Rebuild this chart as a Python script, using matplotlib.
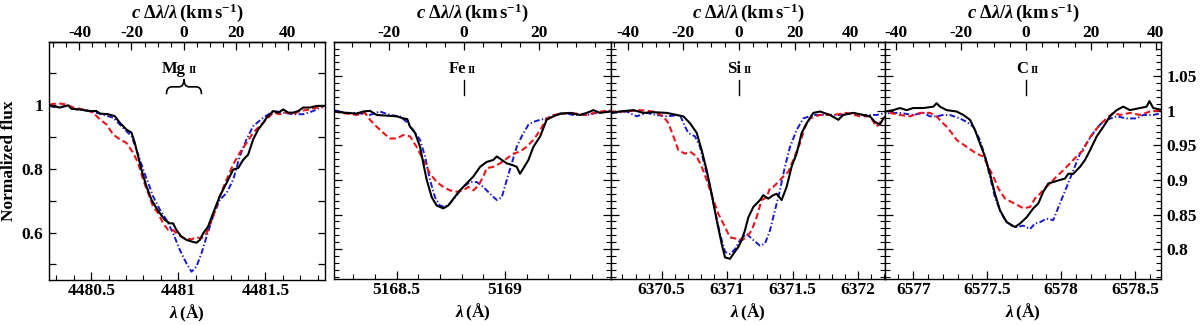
import numpy as np
import matplotlib
matplotlib.use('Agg')
import matplotlib.pyplot as plt
from matplotlib.path import Path
from matplotlib.patches import PathPatch
from matplotlib.ticker import MultipleLocator, FuncFormatter, FixedLocator

C_KMS = 299792.458

# ---- Mg II 4481 ----
mg_black_wl = 4481 + np.array([
    -0.739, -0.681, -0.633, -0.614, -0.566, -0.509, -0.470, -0.451, -0.403, -0.365,
    -0.336, -0.298, -0.269, -0.250, -0.231, -0.212, -0.183, -0.154, -0.126, -0.106,
    -0.078, -0.049, -0.030, -0.011, 0.018, 0.047, 0.076, 0.104, 0.124, 0.143,
    0.171, 0.200, 0.238, 0.277, 0.315, 0.344, 0.373, 0.401, 0.430, 0.459,
    0.488, 0.507, 0.545, 0.574, 0.603, 0.631, 0.660, 0.689, 0.717, 0.756,
    0.794, 0.842])
mg_black_fx = np.array([
    1.000, 0.993, 1.000, 0.989, 0.987, 0.982, 0.982, 0.974, 0.972, 0.966,
    0.945, 0.924, 0.914, 0.882, 0.840, 0.798, 0.745, 0.703, 0.677, 0.661,
    0.640, 0.629, 0.629, 0.608, 0.587, 0.577, 0.572, 0.568, 0.577, 0.598,
    0.619, 0.661, 0.714, 0.756, 0.798, 0.803, 0.829, 0.845, 0.893, 0.924,
    0.945, 0.961, 0.982, 0.977, 0.987, 0.977, 0.977, 0.982, 0.993, 0.993,
    0.998, 0.998])
mg_red_wl = 4481 + np.array([
    -0.739, -0.691, -0.643, -0.604, -0.528, -0.489, -0.451, -0.413, -0.374, -0.336,
    -0.298, -0.260, -0.231, -0.202, -0.173, -0.145, -0.116, -0.087, -0.058, -0.030,
    -0.001, 0.037, 0.076, 0.104, 0.133, 0.162, 0.200, 0.238, 0.277, 0.315,
    0.353, 0.392, 0.430, 0.468, 0.507, 0.545, 0.583, 0.622, 0.660, 0.698,
    0.756, 0.794, 0.832])
mg_red_fx = np.array([
    1.003, 1.006, 1.003, 0.993, 0.985, 0.977, 0.956, 0.940, 0.908, 0.893,
    0.882, 0.851, 0.819, 0.766, 0.724, 0.682, 0.661, 0.629, 0.608, 0.608,
    0.593, 0.582, 0.579, 0.585, 0.582, 0.598, 0.651, 0.714, 0.766, 0.814,
    0.851, 0.882, 0.914, 0.935, 0.956, 0.977, 0.972, 0.977, 0.972, 0.982,
    0.987, 0.993, 0.993])
mg_blue_wl = 4481 + np.array([
    -0.739, -0.700, -0.643, -0.585, -0.509, -0.451, -0.374, -0.317, -0.269, -0.240,
    -0.202, -0.173, -0.145, -0.106, -0.068, -0.030, 0.009, 0.047, 0.076, 0.104,
    0.133, 0.162, 0.200, 0.238, 0.277, 0.315, 0.353, 0.392, 0.430, 0.488,
    0.545, 0.603, 0.660, 0.717, 0.775, 0.832])
mg_blue_fx = np.array([
    0.998, 0.993, 0.998, 0.987, 0.982, 0.974, 0.961, 0.929, 0.903, 0.861,
    0.798, 0.756, 0.714, 0.672, 0.640, 0.598, 0.545, 0.503, 0.477, 0.493,
    0.535, 0.587, 0.651, 0.703, 0.724, 0.766, 0.840, 0.893, 0.935, 0.961,
    0.982, 0.977, 0.972, 0.972, 0.982, 0.998])

# ---- Fe II 5169 ----
fe_black_wl = 5169 + np.array([
    -0.789, -0.731, -0.685, -0.654, -0.623, -0.592, -0.546, -0.500, -0.469, -0.451,
    -0.438, -0.415, -0.392, -0.377, -0.361, -0.338, -0.315, -0.285, -0.262, -0.238,
    -0.208, -0.177, -0.146, -0.115, -0.085, -0.054, -0.038, -0.015, 0.008, 0.031,
    0.054, 0.069, 0.085, 0.108, 0.131, 0.162, 0.192, 0.223, 0.254, 0.300,
    0.346, 0.377, 0.408, 0.438, 0.485])
fe_black_fx = np.array([
    0.999, 0.997, 0.996, 0.999, 1.000, 0.994, 0.993, 0.992, 0.989, 0.988,
    0.977, 0.968, 0.948, 0.924, 0.900, 0.875, 0.863, 0.859, 0.863, 0.873,
    0.885, 0.895, 0.905, 0.919, 0.926, 0.929, 0.934, 0.929, 0.924, 0.922,
    0.919, 0.909, 0.917, 0.929, 0.948, 0.963, 0.987, 0.992, 0.996, 0.997,
    0.994, 0.997, 1.001, 0.997, 0.999])
fe_red_wl = 5169 + np.array([
    -0.789, -0.731, -0.685, -0.646, -0.623, -0.592, -0.561, -0.531, -0.500, -0.469,
    -0.438, -0.408, -0.377, -0.346, -0.315, -0.285, -0.254, -0.223, -0.192, -0.169,
    -0.146, -0.123, -0.100, -0.085, -0.054, -0.023, 0.008, 0.038, 0.069, 0.100,
    0.131, 0.162, 0.192, 0.223, 0.300, 0.377, 0.423, 0.485])
fe_red_fx = np.array([
    0.999, 0.996, 0.994, 0.997, 0.987, 0.977, 0.968, 0.960, 0.960, 0.965,
    0.963, 0.948, 0.929, 0.909, 0.897, 0.890, 0.885, 0.883, 0.885, 0.890,
    0.885, 0.892, 0.905, 0.917, 0.919, 0.924, 0.931, 0.938, 0.941, 0.948,
    0.958, 0.972, 0.989, 0.994, 0.997, 0.994, 0.998, 1.001])
fe_blue_wl = 5169 + np.array([
    -0.789, -0.731, -0.685, -0.623, -0.577, -0.531, -0.485, -0.454, -0.423, -0.392,
    -0.369, -0.346, -0.323, -0.300, -0.277, -0.254, -0.223, -0.192, -0.162, -0.131,
    -0.100, -0.069, -0.038, -0.015, 0.008, 0.031, 0.054, 0.077, 0.108, 0.131,
    0.162, 0.192, 0.223, 0.269, 0.315, 0.377, 0.423, 0.485])
fe_blue_fx = np.array([
    1.001, 0.997, 0.997, 0.994, 0.999, 0.994, 0.992, 0.984, 0.972, 0.958,
    0.934, 0.900, 0.875, 0.863, 0.861, 0.866, 0.878, 0.890, 0.897, 0.897,
    0.890, 0.880, 0.871, 0.875, 0.900, 0.924, 0.948, 0.963, 0.980, 0.984,
    0.987, 0.989, 0.992, 0.997, 0.994, 0.994, 0.997, 0.999])

# ---- Si II 6371 ----
si_black_wl = 6371 + np.array([
    -0.971, -0.895, -0.818, -0.716, -0.640, -0.564, -0.462, -0.386, -0.335, -0.284,
    -0.233, -0.195, -0.157, -0.119, -0.081, -0.043, -0.017, 0.021, 0.046, 0.084,
    0.110, 0.135, 0.161, 0.199, 0.250, 0.275, 0.313, 0.351, 0.377, 0.415,
    0.453, 0.491, 0.529, 0.568, 0.606, 0.657, 0.708, 0.784, 0.848, 0.885,
    0.962, 1.038, 1.089, 1.127, 1.165, 1.191, 1.242, 1.318])
si_black_fx = np.array([
    0.994, 0.997, 0.999, 1.001, 0.997, 0.998, 0.997, 0.994, 0.992, 0.982,
    0.968, 0.943, 0.914, 0.880, 0.842, 0.808, 0.788, 0.786, 0.793, 0.803,
    0.813, 0.827, 0.846, 0.861, 0.871, 0.878, 0.873, 0.878, 0.880, 0.871,
    0.890, 0.919, 0.938, 0.968, 0.982, 0.997, 0.999, 0.994, 0.987, 0.994,
    0.997, 0.994, 0.992, 0.984, 0.980, 0.989, 0.997, 0.999])
si_red_wl = 6371 + np.array([
    -0.971, -0.869, -0.767, -0.666, -0.564, -0.488, -0.449, -0.411, -0.373, -0.322,
    -0.284, -0.233, -0.195, -0.157, -0.106, -0.068, -0.017, 0.021, 0.072, 0.110,
    0.148, 0.186, 0.224, 0.262, 0.300, 0.326, 0.351, 0.389, 0.428, 0.466,
    0.504, 0.555, 0.593, 0.631, 0.708, 0.809, 0.911, 1.013, 1.089, 1.140,
    1.191, 1.267, 1.318])
si_red_fx = np.array([
    0.997, 0.999, 0.999, 1.001, 0.999, 0.992, 0.982, 0.963, 0.943, 0.938,
    0.941, 0.934, 0.919, 0.900, 0.871, 0.851, 0.832, 0.817, 0.815, 0.813,
    0.817, 0.827, 0.846, 0.871, 0.875, 0.888, 0.890, 0.897, 0.905, 0.912,
    0.929, 0.953, 0.977, 0.989, 0.994, 0.994, 0.997, 0.992, 0.992, 0.977,
    0.989, 0.997, 1.001])
si_blue_wl = 6371 + np.array([
    -0.971, -0.869, -0.767, -0.691, -0.615, -0.539, -0.462, -0.361, -0.322, -0.297,
    -0.246, -0.208, -0.170, -0.132, -0.094, -0.055, -0.017, 0.021, 0.059, 0.097,
    0.148, 0.199, 0.250, 0.288, 0.326, 0.364, 0.402, 0.440, 0.479, 0.529,
    0.580, 0.657, 0.758, 0.860, 0.962, 1.038, 1.140, 1.216, 1.318])
si_blue_fx = np.array([
    0.997, 0.997, 0.999, 0.992, 0.997, 0.994, 0.992, 0.994, 0.977, 0.968,
    0.963, 0.948, 0.919, 0.890, 0.856, 0.822, 0.796, 0.793, 0.800, 0.813,
    0.822, 0.813, 0.805, 0.808, 0.827, 0.856, 0.885, 0.919, 0.948, 0.972,
    0.989, 0.994, 0.994, 0.994, 0.997, 0.994, 0.994, 0.997, 0.999])

# ---- C II 6578 ----
c_black_wl = 6577 + np.array([
    -0.225, -0.191, -0.135, -0.090, -0.045, 0.000, 0.068, 0.136, 0.158, 0.181,
    0.226, 0.293, 0.339, 0.384, 0.418, 0.451, 0.485, 0.519, 0.553, 0.587,
    0.632, 0.688, 0.722, 0.767, 0.812, 0.846, 0.880, 0.914, 0.947, 0.992,
    1.026, 1.049, 1.083, 1.128, 1.162, 1.196, 1.241, 1.286, 1.331, 1.376,
    1.421, 1.466, 1.534, 1.579, 1.597, 1.624, 1.687])
c_black_fx = np.array([
    0.982, 0.999, 1.001, 1.004, 1.001, 1.004, 1.004, 1.006, 1.011, 1.006,
    1.001, 0.999, 0.994, 0.987, 0.972, 0.953, 0.934, 0.909, 0.880, 0.856,
    0.839, 0.832, 0.837, 0.846, 0.859, 0.866, 0.883, 0.895, 0.897, 0.900,
    0.902, 0.909, 0.909, 0.919, 0.929, 0.943, 0.963, 0.977, 0.992, 1.001,
    1.006, 1.001, 1.004, 1.006, 1.014, 1.004, 1.001])
c_red_wl = 6577 + np.array([
    -0.225, -0.158, -0.090, -0.022, 0.045, 0.113, 0.158, 0.192, 0.226, 0.260,
    0.293, 0.361, 0.429, 0.474, 0.508, 0.542, 0.575, 0.621, 0.666, 0.711,
    0.745, 0.790, 0.823, 0.857, 0.891, 0.925, 0.970, 1.015, 1.060, 1.105,
    1.150, 1.184, 1.218, 1.263, 1.308, 1.353, 1.398, 1.466, 1.534, 1.602,
    1.687])
c_red_fx = np.array([
    0.997, 0.997, 0.994, 0.992, 0.997, 0.997, 0.992, 0.984, 0.977, 0.968,
    0.958, 0.948, 0.938, 0.934, 0.919, 0.905, 0.888, 0.873, 0.868, 0.863,
    0.859, 0.861, 0.873, 0.880, 0.888, 0.895, 0.905, 0.914, 0.924, 0.934,
    0.943, 0.958, 0.968, 0.980, 0.989, 0.997, 0.994, 0.997, 0.994, 0.999,
    1.001])
c_blue_wl = 6577 + np.array([
    -0.225, -0.158, -0.090, 0.000, 0.068, 0.113, 0.158, 0.203, 0.248, 0.316,
    0.361, 0.406, 0.451, 0.485, 0.519, 0.553, 0.587, 0.621, 0.666, 0.700,
    0.745, 0.790, 0.823, 0.857, 0.902, 0.947, 0.992, 1.038, 1.083, 1.128,
    1.173, 1.218, 1.263, 1.308, 1.376, 1.443, 1.511, 1.556, 1.624, 1.687])
c_blue_fx = np.array([
    0.994, 0.997, 0.997, 0.994, 0.997, 0.992, 0.992, 0.994, 0.994, 0.989,
    0.984, 0.977, 0.958, 0.934, 0.905, 0.875, 0.856, 0.842, 0.834, 0.832,
    0.834, 0.829, 0.837, 0.839, 0.844, 0.842, 0.866, 0.890, 0.914, 0.938,
    0.953, 0.968, 0.980, 0.987, 0.992, 0.989, 0.989, 0.994, 0.994, 0.997])

# line identifications
ion_names = ['Mg', 'Fe', 'Si', 'C']
rest_wl = [4481.03, 5168.81, 6371.09, 6577.763]
mg_doublet = [4480.932, 4481.133]

plt.rcParams['font.family'] = 'Liberation Serif'
plt.rcParams['font.weight'] = 'bold'
plt.rcParams['axes.labelweight'] = 'bold'
plt.rcParams['mathtext.fontset'] = 'custom'
plt.rcParams['mathtext.rm'] = 'Liberation Serif:bold'
plt.rcParams['mathtext.it'] = 'Liberation Serif:italic:bold'
plt.rcParams['mathtext.bf'] = 'Liberation Serif:bold'
plt.rcParams['axes.linewidth'] = 1.0

BLACK = 'black'
RED = '#e8161b'
BLUE = '#1818d0'
FS = 12.5

fig = plt.figure(figsize=(12, 3.25), dpi=100)
boxes = [(0.0408, 0.1385, 0.2304, 0.7323),
         (0.2783, 0.1406, 0.2309, 0.7302),
         (0.5092, 0.1406, 0.2283, 0.7302),
         (0.7375, 0.1406, 0.2300, 0.7302)]
xlims = [(4480.257, 4481.845), (5168.211, 5169.489),
         (6370.113, 6372.204), (6576.809, 6578.676)]

series = [
    (mg_black_wl, mg_black_fx, mg_red_wl, mg_red_fx, mg_blue_wl, mg_blue_fx),
    (fe_black_wl, fe_black_fx, fe_red_wl, fe_red_fx, fe_blue_wl, fe_blue_fx),
    (si_black_wl, si_black_fx, si_red_wl, si_red_fx, si_blue_wl, si_blue_fx),
    (c_black_wl, c_black_fx, c_red_wl, c_red_fx, c_blue_wl, c_blue_fx),
]


def g_fmt(v, pos):
    return '%g' % round(v, 3)


def flux1_fmt(v, pos):
    # only 0.6, 0.8 and 1 are labelled in the first panel
    k = int(round(v * 10))
    if k % 2 == 0 and 6 <= k <= 10:
        return '%g' % (k / 10)
    return ''


all_axes = []
for i, (box, xl, s) in enumerate(zip(boxes, xlims, series)):
    ax = fig.add_axes(box)
    bw, bf, rw, rf, uw, uf = s
    ax.plot(uw, uf, color=BLUE, lw=1.4, dashes=(3, 1.2, 0.7, 1.2))
    ax.plot(rw, rf, color=RED, lw=1.5, dashes=(3, 1.6))
    ax.plot(bw, bf, color=BLACK, lw=1.5)
    ax.set_xlim(*xl)

    ax.xaxis.set_major_locator(MultipleLocator(0.5))
    ax.xaxis.set_minor_locator(MultipleLocator(0.1))
    ax.xaxis.set_major_formatter(FuncFormatter(g_fmt))
    ax.tick_params(which='both', direction='in', top=False, right=True,
                   labelsize=FS, pad=2)
    ax.tick_params(which='major', length=6, width=0.9)
    ax.tick_params(which='minor', length=3.5, width=0.8)
    ax.set_xlabel(r'$\lambda\,$(Å)', fontsize=FS, labelpad=3)

    if i == 0:
        ax.set_ylim(0.451, 1.199)
        ax.yaxis.set_major_locator(MultipleLocator(0.1))
        ax.yaxis.set_major_formatter(FuncFormatter(flux1_fmt))
        ax.tick_params(axis='y', which='major', length=5, pad=4)
        ax.set_ylabel('Normalized flux', fontsize=FS, fontweight='bold', labelpad=3)
    else:
        ax.set_ylim(0.7564, 1.0995)
        ax.yaxis.set_major_locator(MultipleLocator(0.05))
        ax.yaxis.set_minor_locator(MultipleLocator(0.01))
        ax.yaxis.set_major_formatter(FuncFormatter(g_fmt))
        if i == 3:
            ax.tick_params(axis='y', labelleft=False, labelright=True, pad=4)
        else:
            ax.tick_params(axis='y', labelleft=False)

    # velocity axis
    lam0 = rest_wl[i]
    to_v = lambda w, l0=lam0: (w / l0 - 1.0) * C_KMS
    to_w = lambda v, l0=lam0: l0 * (1.0 + v / C_KMS)
    sec = ax.secondary_xaxis('top', functions=(to_v, to_w))
    v_lo, v_hi = to_v(xl[0]), to_v(xl[1])
    v_major = [v for v in range(-100, 101, 20) if v_lo <= v <= v_hi]
    sec.xaxis.set_major_locator(FixedLocator(v_major))
    sec.xaxis.set_minor_locator(MultipleLocator(5))
    sec.xaxis.set_major_formatter(FuncFormatter(g_fmt))
    sec.tick_params(which='both', direction='in', labelsize=FS, pad=1)
    sec.tick_params(which='major', length=6, width=0.9)
    sec.tick_params(which='minor', length=3.5, width=0.8)
    sec.set_xlabel(r'$c\;\Delta\lambda/\lambda\,$(km$\,$s$^{-1}$)',
                   fontsize=13.5, labelpad=5)

    # line marker + label
    if i == 0:
        x1, x2 = mg_doublet
        xm = 0.5 * (x1 + x2)
        yb, ym, yt = 1.035, 1.058, 1.082
        q = 0.3 * (xm - x1)
        left = Path([(xm, yt), (xm, ym), (xm - q, ym), (x1 + q, ym), (x1, ym), (x1, yb)],
                    [Path.MOVETO, Path.CURVE3, Path.CURVE3, Path.LINETO,
                     Path.CURVE3, Path.CURVE3])
        right = Path([(xm, yt), (xm, ym), (xm + q, ym), (x2 - q, ym), (x2, ym), (x2, yb)],
                     [Path.MOVETO, Path.CURVE3, Path.CURVE3, Path.LINETO,
                      Path.CURVE3, Path.CURVE3])
        for p in (left, right):
            ax.add_patch(PathPatch(p, fill=False, lw=1.2, color='black'))
        ylab = 1.101
        xc = xm
    else:
        ax.plot([lam0, lam0], [1.023, 1.045], color='black', lw=1.0)
        ylab = 1.054
        xc = lam0
    ax.annotate(ion_names[i], (xc, ylab), xytext=(1.5, 0), textcoords='offset points',
                ha='right', va='baseline', fontsize=12, fontweight='bold')
    ax.annotate('II', (xc, ylab), xytext=(3, 0), textcoords='offset points',
                ha='left', va='baseline', fontsize=7.5, fontweight='bold')
    all_axes.append(ax)
    all_axes.append(sec)

# make sure every tick label is drawn in bold
fig.canvas.draw()
for a in all_axes:
    for axis in (a.xaxis, a.yaxis):
        for tk in axis.get_major_ticks():
            tk.label1.set_fontweight('bold')
            tk.label2.set_fontweight('bold')

fig.savefig('out.png', dpi=100)
